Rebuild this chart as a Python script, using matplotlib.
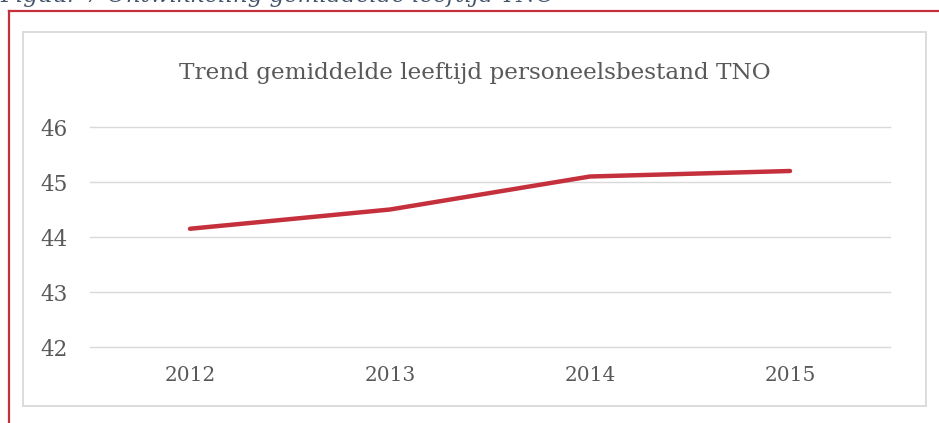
import matplotlib.pyplot as plt
from matplotlib.lines import Line2D
from matplotlib.patches import Rectangle

years = ["2012", "2013", "2014", "2015"]
avg_age = [44.15, 44.5, 45.1, 45.2]
y_ticks = [42, 43, 44, 45, 46]

RED = "#c5303d"
GRID = "#d9d9d9"
TEXT = "#595959"

W, H = 939, 423
fig = plt.figure(figsize=(W / 100, H / 100), dpi=100)


def fx(px):
    return px / W


def fy(py):
    return 1 - py / H


# outer red frame (left + top only)
fig.add_artist(Line2D([fx(8.5), fx(8.5)], [fy(11), fy(423)], color=RED, lw=1.6,
                      transform=fig.transFigure))
fig.add_artist(Line2D([fx(8.5), fx(939)], [fy(11.5), fy(11.5)], color=RED, lw=1.6,
                      transform=fig.transFigure))

# caption, cut off at the top edge like in the source screenshot
fig.text(fx(0), fy(2), "Figuur 7 Ontwikkeling gemiddelde leeftijd TNO",
         family="DejaVu Serif", style="italic", fontsize=16.5, color="#44546a",
         ha="left", va="baseline")

# grey chart box
fig.add_artist(Rectangle((fx(23), fy(406)), fx(926) - fx(23), fy(32) - fy(406),
                         transform=fig.transFigure, fill=False,
                         edgecolor=GRID, lw=1.3))

ax = fig.add_axes([fx(90), fy(347), fx(890) - fx(90), fy(127) - fy(347)])
x = list(range(len(years)))
ax.plot(x, avg_age, color=RED, lw=3.2, solid_capstyle="round", zorder=3)

ax.set_xlim(-0.5, len(years) - 0.5)
ax.set_ylim(42, 46)
ax.set_yticks(y_ticks)
ax.set_xticks(x)
ax.set_xticklabels(years)
ax.grid(axis="y", color=GRID, lw=1.0)
for gl in ax.get_ygridlines():
    gl.set_clip_on(False)
ax.set_axisbelow(True)
for s in ax.spines.values():
    s.set_visible(False)
ax.tick_params(length=0, labelcolor=TEXT)
ax.tick_params(axis="x", pad=14, labelsize=14.5)
ax.tick_params(axis="y", pad=16, labelsize=15.5)
for lab in ax.get_xticklabels() + ax.get_yticklabels():
    lab.set_family("DejaVu Serif")

fig.text(fx(475), fy(73), "Trend gemiddelde leeftijd personeelsbestand TNO",
         family="DejaVu Serif", fontsize=16.7, color=TEXT, ha="center", va="center")

fig.savefig("out.png", dpi=100)
